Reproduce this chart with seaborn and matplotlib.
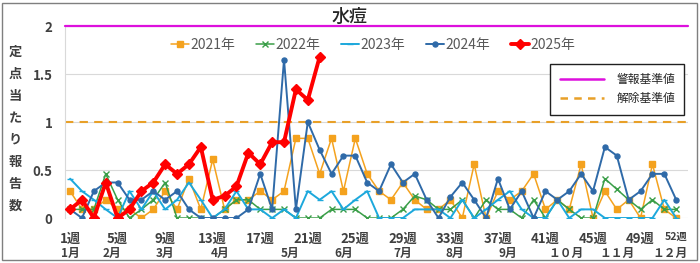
import numpy as np
import pandas as pd
import matplotlib
matplotlib.use("Agg")
import matplotlib.pyplot as plt
import matplotlib.transforms as mtransforms
from matplotlib.lines import Line2D
from matplotlib.patches import Rectangle
import seaborn as sns

# weekly values (per sentinel)
weeks = list(range(1, 53))
y2021 = [0.28, 0.09, 0.09, 0.19, 0.09, 0.09, 0, 0.09, 0.28, 0.09, 0.41, 0.09, 0.61,
         0.09, 0.19, 0.19, 0.28, 0.19, 0.28, 0.83, 0.83, 0.46, 0.83, 0.28, 0.83, 0.46,
         0.28, 0.19, 0.37, 0.19, 0.09, 0.09, 0.19, 0, 0.56, 0, 0.28, 0.19, 0.28, 0.46,
         0.09, 0.19, 0.09, 0.56, 0, 0.28, 0.09, 0.19, 0, 0.56, 0.09, 0]
y2022 = [0.09, 0.09, 0.09, 0.46, 0.19, 0, 0.09, 0.19, 0.37, 0, 0, 0, 0,
         0.09, 0.19, 0.19, 0.09, 0.09, 0.09, 0, 0, 0, 0.09, 0.09, 0.09, 0,
         0, 0, 0.09, 0.23, 0.19, 0.09, 0.09, 0.19, 0, 0.19, 0.09, 0.09, 0, 0.19,
         0, 0.19, 0.09, 0, 0, 0.41, 0.3, 0.19, 0.09, 0.19, 0.09, 0.09]
y2023 = [0.41, 0.28, 0.19, 0.09, 0, 0.28, 0.09, 0.28, 0.09, 0.19, 0.37, 0.19, 0,
         0.09, 0.28, 0.09, 0.09, 0, 0.09, 0, 0.28, 0.19, 0.28, 0.09, 0.19, 0.28,
         0, 0, 0, 0.09, 0.09, 0.09, 0, 0.19, 0, 0.09, 0.19, 0.28, 0.09, 0,
         0, 0.19, 0, 0.09, 0.09, 0, 0, 0, 0, 0, 0.19, 0]
y2024 = [0.09, 0, 0.28, 0.37, 0.37, 0.19, 0.19, 0.28, 0.19, 0.28, 0.09, 0, 0,
         0, 0, 0.09, 0.46, 0.09, 1.65, 0.09, 1.0, 0.71, 0.46, 0.65, 0.65, 0.37,
         0.28, 0.56, 0.37, 0.46, 0.19, 0, 0.22, 0.37, 0.19, 0, 0.41, 0.09, 0.28, 0,
         0.28, 0.19, 0.28, 0.46, 0.28, 0.74, 0.65, 0.19, 0.28, 0.46, 0.46, 0.19]
y2025 = [0.09, 0.19, 0, 0.37, 0, 0.09, 0.28, 0.37, 0.56, 0.46, 0.56, 0.74, 0.19,
         0.23, 0.33, 0.68, 0.56, 0.79, 0.79, 1.34, 1.23, 1.68]

year_labels = ["2021年", "2022年", "2023年", "2024年", "2025年"]
week_ticks = [1, 5, 9, 13, 17, 21, 25, 29, 33, 37, 41, 45, 49, 52]
week_labels = [f"{w}週" for w in week_ticks]
month_labels = ["1月", "2月", "3月", "4月", "5月", "6月", "7月", "8月", "9月",
                "１０月", "１１月", "１２月"]
month_pos = [1.0, 4.5, 9.0, 13.6, 19.5, 24.0, 29.0, 33.4, 37.8, 42.7, 47.0, 51.5]
alarm_level = 2.0
release_level = 1.0

sns.set_style("white")
plt.rcParams['font.family'] = ['Noto Sans CJK JP', 'DejaVu Sans']

fig = plt.figure(figsize=(7, 2.63), dpi=100)
ax = fig.add_axes([0.093, 0.171, 0.890, 0.730])

styles = [
    dict(color="#f4a21e", marker="s", markersize=3.8, linewidth=1.1, zorder=3),
    dict(color="#3a9e48", marker="x", markersize=4.5, linewidth=1.1, zorder=3),
    dict(color="#1ca8dc", marker="_", markersize=5, linewidth=1.4, zorder=3),
    dict(color="#2f6aa8", marker="o", markersize=3.6, linewidth=1.4, zorder=4),
    dict(color="#ff0000", marker="D", markersize=5.5, linewidth=2.8, zorder=6),
]
for lab, vals, st in zip(year_labels, [y2021, y2022, y2023, y2024, y2025], styles):
    df = pd.DataFrame({"week": weeks[:len(vals)], "value": vals})
    sns.lineplot(data=df, x="week", y="value", ax=ax, label=lab,
                 color=st["color"], marker=st["marker"], markersize=st["markersize"],
                 linewidth=st["linewidth"], markeredgecolor=st["color"],
                 markerfacecolor=st["color"], markeredgewidth=1.0,
                 zorder=st["zorder"])

ax.axhline(alarm_level, color="#dd10dd", lw=1.6, clip_on=False, zorder=5)
ax.axhline(release_level, color="#e8a028", lw=1.5, ls=(0, (4, 3)), zorder=2)

ax.set_xlim(0.58, 53.0)
ax.set_ylim(0, 2)
ax.set_yticks([0, 0.5, 1, 1.5, 2])
ax.set_yticklabels(["0", "0.5", "1", "1.5", "2"], fontsize=9.5, fontweight="bold",
                   color="#404040")
ax.set_xticks(week_ticks)
ax.set_xticklabels(week_labels, fontsize=9.5, fontweight="bold", color="#404040")
ax.get_xticklabels()[-1].set_fontsize(7.5)
ax.tick_params(axis="x", length=0, pad=10)
ax.tick_params(axis="y", length=0, pad=9)
ax.set_xlabel("")
ax.set_ylabel("")
ax.grid(axis="y", color="#d9d9d9", lw=0.8)
for s in ["top", "right", "bottom"]:
    ax.spines[s].set_visible(False)
ax.spines["left"].set_color("#d9d9d9")

trans = mtransforms.blended_transform_factory(ax.transData, ax.transAxes)
for m, p in zip(month_labels, month_pos):
    ax.text(p, -0.185, m, transform=trans, ha="center", va="center",
            fontsize=8.5, fontweight="bold", color="#404040")

h, l = ax.get_legend_handles_labels()
leg1 = ax.legend(h, l, ncol=5, loc="center", bbox_to_anchor=(0.494, 0.90),
                 frameon=False, fontsize=10, handlelength=1.3, handletextpad=0.1,
                 columnspacing=1.5, labelcolor="#595959")
ax.add_artist(leg1)

ref_handles = [Line2D([], [], color="#dd10dd", lw=1.8),
               Line2D([], [], color="#e8a028", lw=1.8, ls=(0, (3, 2.5)))]
leg2 = ax.legend(ref_handles, ["警報基準値", "解除基準値"], loc="upper left",
                 bbox_to_anchor=(0.769, 0.833), fontsize=8.5, handlelength=3.8,
                 handletextpad=1.0, borderpad=0.8, labelspacing=0.5,
                 fancybox=False, framealpha=1, edgecolor="#202020")
leg2.get_frame().set_linewidth(1.0)

fig.text(0.5, 1 - 17 / 263, "水痘", ha="center", va="center", fontsize=13,
         fontweight="medium", color="#262626")
fig.text(15 / 700, 0.51, "\n".join("定点当たり報告数"), ha="center", va="center",
         fontsize=9.5, fontweight="bold", linespacing=1.72, color="#404040")

fig.patches.append(Rectangle((0.003, 0.012), 0.993, 0.978, transform=fig.transFigure,
                             fill=False, ec="#7f7f7f", lw=1.0))

fig.savefig("out.png", dpi=100)
